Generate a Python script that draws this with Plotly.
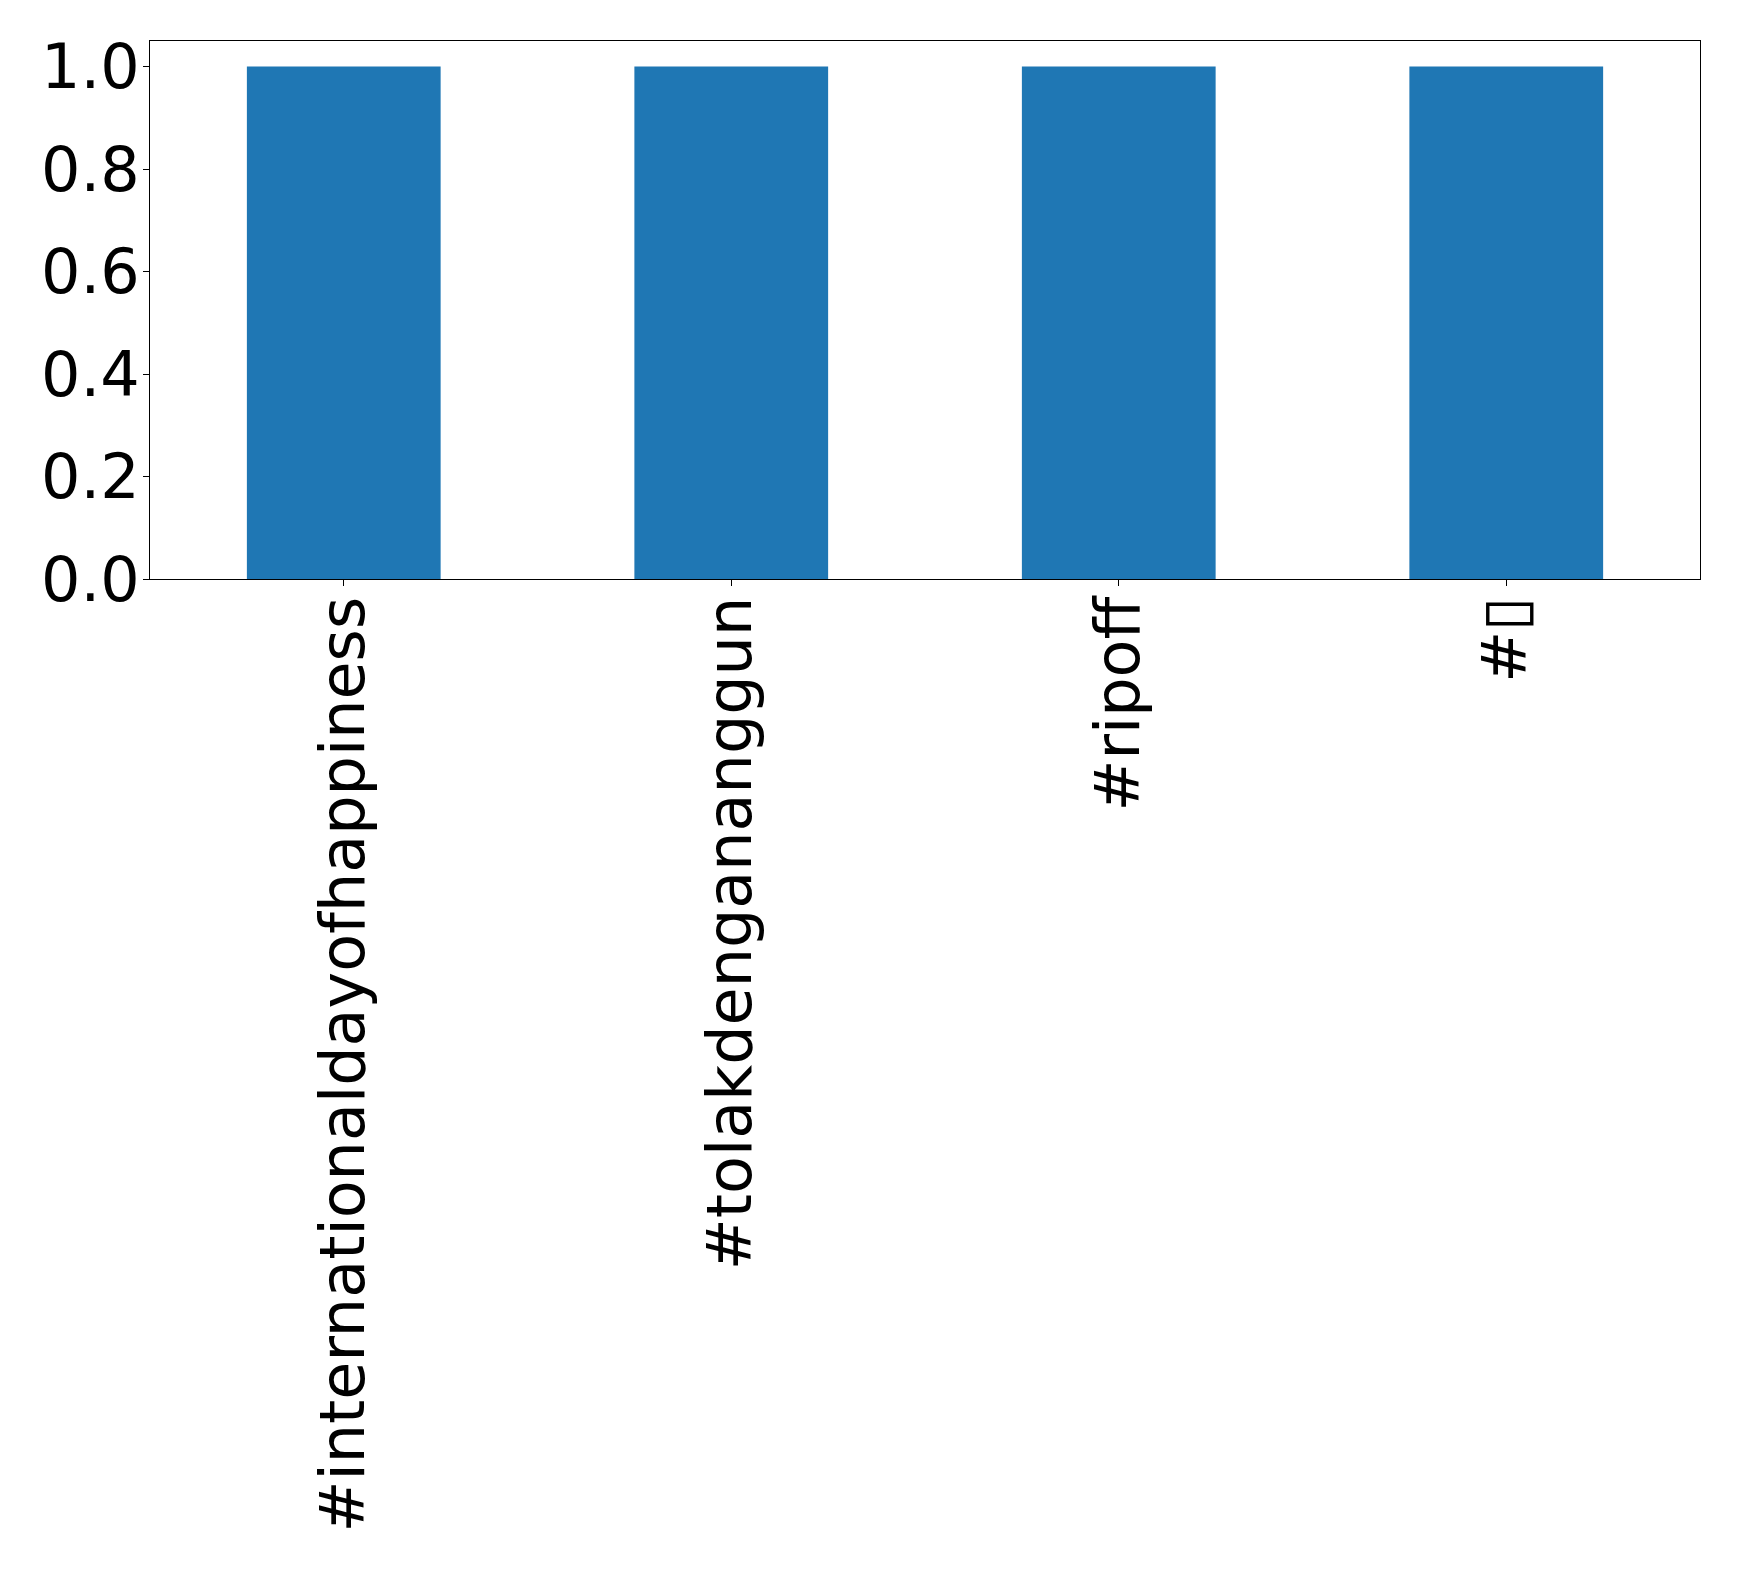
import plotly.graph_objects as go

categories = ["#internationaldayofhappiness", "#tolakdengananggun", "#ripoff", "#\u25AF"]
values = [1, 1, 1, 1]

fig = go.Figure(go.Bar(x=categories, y=values, marker_color="#1f77b4",
                       marker_line_width=0, width=0.5))

fig.update_layout(
    width=1739, height=1571,
    margin=dict(l=142, r=47, t=33, b=1000, autoexpand=False),
    plot_bgcolor="white", paper_bgcolor="white",
    font=dict(family="DejaVu Sans", size=62, color="black"),
    showlegend=False,
)
fig.update_xaxes(
    type="category", range=[-0.5, 3.5], tickangle=-90, automargin=False,
    showline=True, linecolor="black", linewidth=1, mirror=True,
    ticks="outside", ticklen=6, tickwidth=1, tickcolor="black",
    ticklabelstandoff=-14,
    showgrid=False, zeroline=False,
)
fig.update_yaxes(
    range=[0, 1.05], tickvals=[0, 0.2, 0.4, 0.6, 0.8, 1.0], tickformat=".1f",
    automargin=False,
    showline=True, linecolor="black", linewidth=1, mirror=True,
    ticks="outside", ticklen=6, tickwidth=1, tickcolor="black",
    ticklabelstandoff=-9,
    showgrid=False, zeroline=False,
)

fig.write_html("out.html")
